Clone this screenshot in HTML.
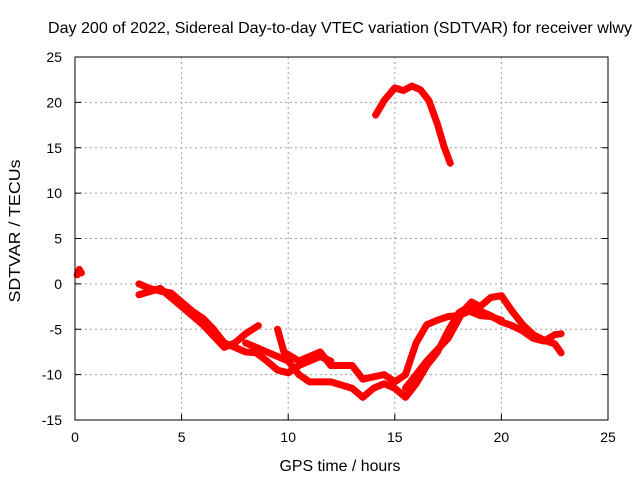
<!DOCTYPE html>
<html><head><meta charset="utf-8"><style>
body{margin:0;background:#fff}
svg text{font-family:"Liberation Sans",sans-serif;font-size:14px;fill:#000}
</style></head><body>
<svg id="chart" width="640" height="480">
<rect width="640" height="480" fill="#fff"/>
<text x="340" y="33" text-anchor="middle" style="font-size:16px" textLength="584" lengthAdjust="spacingAndGlyphs">Day 200 of 2022, Sidereal Day-to-day VTEC variation (SDTVAR) for receiver wlwy</text>
<text x="340" y="471" text-anchor="middle" style="font-size:16px" textLength="121" lengthAdjust="spacingAndGlyphs">GPS time / hours</text>
<text transform="translate(20,231) rotate(-90)" text-anchor="middle" style="font-size:16px" textLength="143" lengthAdjust="spacingAndGlyphs">SDTVAR / TECUs</text>
<g id="grid"></g><g id="plot"></g>
<rect x="75" y="57" width="533" height="363" fill="none" stroke="#000" stroke-width="1"/>
</svg>
<script>
const xTicks=[0,5,10,15,20,25];
const yTicks=[-15,-10,-5,0,5,10,15,20,25];
const seg0=[[0.1,1.0],[0.2,1.6],[0.3,1.2]];
const seg1=[[14.1,18.6],[14.5,20.2],[15,21.6],[15.4,21.3],[15.8,21.8],[16.2,21.4],[16.6,20.2],[17,17.6],[17.3,15.2],[17.6,13.3]];
const seg2=[[3,0],[3.5,-0.5],[4,-0.8],[4.5,-1],[5,-2],[5.5,-3],[6,-3.8],[6.5,-5],[7,-6.5],[7.5,-7],[8,-7.5],[8.5,-7.6],[9,-8.5],[9.5,-9.5],[10,-9.8],[10.5,-9],[11,-8.5],[11.5,-8],[12,-8.5]];
const seg3=[[3,-1.2],[4,-0.5],[5,-2.5],[6,-4.5],[7,-7],[7.5,-6.5],[8,-5.5],[8.6,-4.6]];
const seg4=[[8,-6.5],[9,-7.5],[10,-8.5],[10.5,-10],[11,-10.8],[12,-10.8],[13,-11.5],[13.5,-12.5],[14,-11.5],[14.5,-11],[15,-11.5],[15.5,-12.5],[16,-11],[16.5,-9],[17,-7.5],[17.5,-5.2],[18,-3.2],[18.5,-2.5],[19,-3],[19.5,-3.5],[20,-4.2],[20.5,-4.6],[21,-5.2],[21.5,-6],[22,-6.3],[22.5,-5.6],[22.8,-5.5]];
const seg5=[[9.5,-5],[9.8,-7.5],[10.5,-8.5],[11.5,-7.5],[12,-9],[13,-9],[13.5,-10.5],[14.5,-10],[15,-10.8],[15.5,-10],[16,-6.5],[16.5,-4.5],[17,-4],[17.5,-3.6],[18,-3.5],[18.5,-3],[19,-3.5],[19.5,-3.6],[20,-4]];
const seg6=[[15.5,-11.5],[16.5,-8.5],[17.5,-6],[18.2,-3],[18.6,-2],[19,-2.5],[19.5,-1.5],[20,-1.3],[20.5,-3],[21,-4.5],[21.5,-5.6],[22,-6.2],[22.5,-6.6],[22.8,-7.6]];
const series=[seg0,seg1,seg2,seg3,seg4,seg5,seg6];
const X=v=>75+v*533/25, Y=v=>420-(v+15)*363/40;
const NS='http://www.w3.org/2000/svg';
const grid=document.getElementById('grid'), plot=document.getElementById('plot');
function mk(tag,attrs,parent){const e=document.createElementNS(NS,tag);for(const k in attrs)e.setAttribute(k,attrs[k]);parent.appendChild(e);return e;}
xTicks.forEach(t=>{
 if(t>0&&t<25){const l=mk('line',{x1:X(t),x2:X(t),y1:57,y2:420,stroke:'#a0a0a0','stroke-dasharray':'2,3'},grid);}
 const tk=mk('line',{x1:X(t),x2:X(t),y1:420,y2:414,stroke:'#000'},grid);
 const tx=mk('text',{x:X(t),y:442,'text-anchor':'middle'},grid);tx.textContent=t;
});
yTicks.forEach(t=>{
 if(t>-15&&t<25){const l=mk('line',{x1:75,x2:608,y1:Y(t),y2:Y(t),stroke:'#a0a0a0','stroke-dasharray':'2,3'},grid);}
 const tk=mk('line',{x1:75,x2:81,y1:Y(t),y2:Y(t),stroke:'#000'},grid);
 const tk2=mk('line',{x1:602,x2:608,y1:Y(t),y2:Y(t),stroke:'#000'},grid);
 const tx=mk('text',{x:62,y:Y(t)+5,'text-anchor':'end'},grid);tx.textContent=t;
});
series.forEach(s=>{
 const p=mk('polyline',{points:s.map(d=>X(d[0])+','+Y(d[1])).join(' '),fill:'none',stroke:'#ff0000','stroke-width':7,'stroke-linejoin':'round','stroke-linecap':'round'},plot);
 
 
});
</script>
</body></html>
